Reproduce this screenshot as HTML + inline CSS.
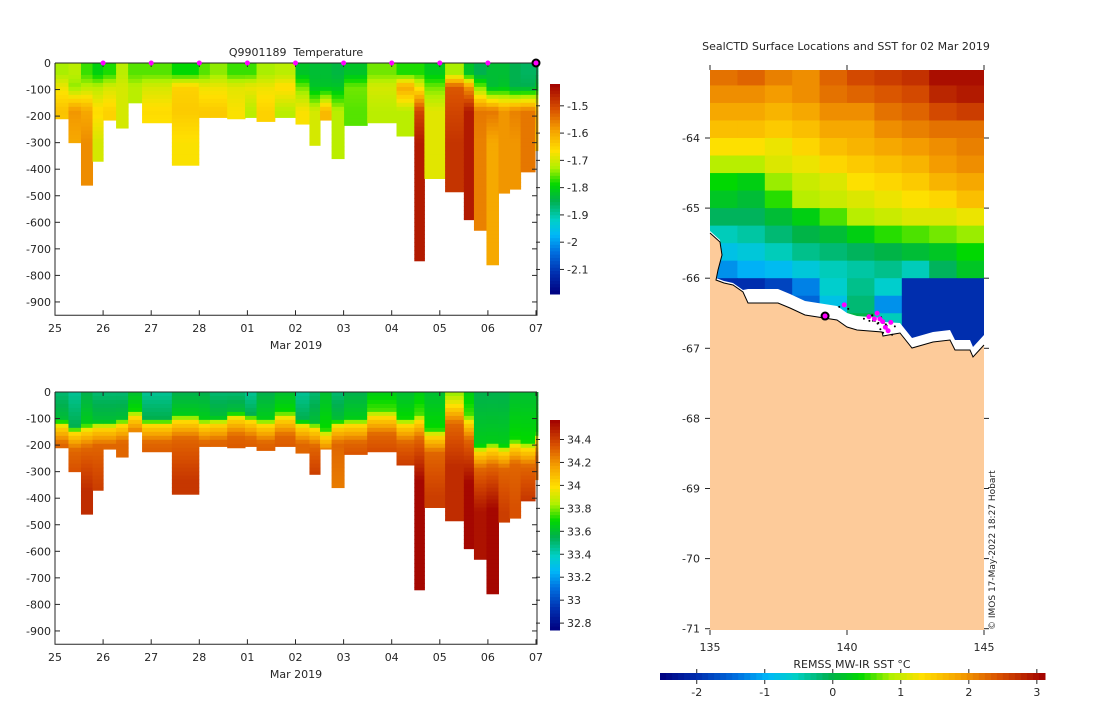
<!DOCTYPE html>
<html><head><meta charset="utf-8"><style>
body{margin:0;background:#fff;width:1100px;height:700px;overflow:hidden}
svg text{font-family:"DejaVu Sans","Liberation Sans",sans-serif;font-size:11px;fill:#262626}
</style></head><body>
<svg id="s" width="1100" height="700" xmlns="http://www.w3.org/2000/svg"></svg>
<script>
// ---- data ----
const colStart=[0,0.28,0.54,0.78,1.0,1.27,1.52,1.81,2.43,2.99,3.22,3.58,3.95,4.19,4.57,5.0,5.29,5.51,5.75,6.01,6.49,7.1,7.47,7.68,8.11,8.5,8.71,8.97,9.22,9.45,9.68,9.98];
const colEnd=[0.28,0.54,0.78,1.0,1.27,1.52,1.81,2.43,2.99,3.22,3.58,3.95,4.19,4.57,5.0,5.29,5.51,5.75,6.01,6.49,7.1,7.47,7.68,8.11,8.5,8.71,8.97,9.22,9.45,9.68,9.98,10.04];
const colDepth=[210,300,460,370,215,245,150,225,385,205,205,210,205,220,205,230,310,215,360,235,225,275,745,435,485,590,630,760,490,475,410,330];
const tSurf=[-1.73,-1.72,-1.77,-1.80,-1.78,-1.72,-1.76,-1.76,-1.79,-1.76,-1.74,-1.77,-1.77,-1.73,-1.72,-1.82,-1.83,-1.83,-1.84,-1.82,-1.75,-1.78,-1.78,-1.81,-1.73,-1.82,-1.85,-1.83,-1.83,-1.85,-1.86,-1.86];
const tMid=[-1.68,-1.74,-1.72,-1.72,-1.70,-1.70,-1.72,-1.70,-1.65,-1.68,-1.68,-1.69,-1.68,-1.68,-1.66,-1.75,-1.82,-1.82,-1.82,-1.75,-1.70,-1.60,-1.68,-1.75,-1.52,-1.58,-1.75,-1.83,-1.82,-1.85,-1.85,-1.82];
const tLow=[-1.63,-1.58,-1.60,-1.66,-1.65,-1.70,-1.72,-1.66,-1.64,-1.64,-1.64,-1.67,-1.72,-1.65,-1.72,-1.67,-1.70,-1.62,-1.72,-1.76,-1.72,-1.72,-1.50,-1.69,-1.50,-1.45,-1.55,-1.55,-1.58,-1.56,-1.55,-1.60];
const tDeep=[-1.65,-1.60,-1.57,-1.70,-1.65,-1.70,-1.72,-1.68,-1.67,-1.64,-1.64,-1.67,-1.72,-1.65,-1.72,-1.67,-1.70,-1.62,-1.72,-1.76,-1.72,-1.72,-1.45,-1.69,-1.48,-1.45,-1.56,-1.60,-1.58,-1.58,-1.55,-1.62];
const sSurf=[33.5,33.45,33.55,33.5,33.5,33.5,33.6,33.45,33.55,33.55,33.5,33.5,33.45,33.55,33.6,33.45,33.5,33.6,33.5,33.55,33.65,33.6,33.65,33.6,33.8,33.65,33.55,33.55,33.55,33.6,33.6,33.6];
const sMld=[105,130,120,110,110,100,70,100,85,100,95,75,85,100,75,105,115,140,105,100,70,100,85,140,30,90,200,190,200,180,190,155];
const sDeep=[34.35,34.4,34.45,34.4,34.3,34.3,34.3,34.4,34.42,34.35,34.35,34.4,34.4,34.4,34.4,34.3,34.45,34.3,34.25,34.45,34.45,34.5,34.55,34.4,34.45,34.55,34.52,34.55,34.4,34.35,34.45,34.3];
const dayLabels=["25","26","27","28","01","02","03","04","05","06","07"];
const depthTicks=[0,-100,-200,-300,-400,-500,-600,-700,-800,-900];
const tTicks=[-1.5,-1.6,-1.7,-1.8,-1.9,-2,-2.1];
const sTicks=[34.4,34.2,34,33.8,33.6,33.4,33.2,33,32.8];
const sstTicks=[-2,-1,0,1,2,3];
const latTicks=[-64,-65,-66,-67,-68,-69,-70,-71];
const lonTicks=[135,140,145];
const surfDays=[1,2,3,4,5,6,7,8,9];
// SST grid rows from -63 southward by 0.25 deg, cols 135..145 by 1 deg
const sstGrid=[
[2.2,2.3,2.1,2.0,2.3,2.5,2.6,2.7,3.0,3.0],
[2.0,2.0,1.9,2.0,2.2,2.3,2.4,2.5,2.8,2.9],
[1.8,1.8,1.7,1.8,2.0,2.0,2.2,2.3,2.5,2.6],
[1.6,1.6,1.5,1.6,1.8,1.8,2.0,2.1,2.2,2.2],
[1.3,1.3,1.2,1.4,1.6,1.7,1.8,1.9,2.0,2.1],
[0.9,0.9,1.1,1.2,1.4,1.5,1.6,1.7,1.9,2.0],
[0.4,0.3,0.8,1.0,1.1,1.3,1.4,1.5,1.7,1.8],
[0.2,0.1,0.5,0.9,1.0,1.1,1.2,1.3,1.4,1.6],
[-0.1,-0.1,0.1,0.3,0.6,0.9,1.0,1.1,1.1,1.2],
[-0.5,-0.4,-0.2,0.0,0.1,0.3,0.5,0.6,0.7,0.8],
[-0.8,-0.7,-0.5,-0.3,-0.2,-0.1,0.0,0.1,0.2,0.4],
[-1.2,-1.0,-0.9,-0.7,-0.5,-0.4,-0.3,-0.5,-0.1,0.2],
[-2.0,-2.0,-1.8,-1.3,-0.6,-0.3,-0.6,-2.0,-2.0,-2.0],
[-2.0,-2.0,-2.0,-1.5,-0.8,-0.2,-1.2,-2.0,-2.0,-2.0],
[null,null,null,null,-0.6,0.0,-0.5,-2.0,-2.0,-2.0],
[null,null,null,null,null,0.0,-0.3,-2.0,-2.0,-2.0],
[null,null,null,null,null,null,null,-2.0,-2.0,-2.0]];
const coast=[[710,233],[720,242],[722,255],[718,270],[716,280],[724,283],[733,285],[743,292],[748,303],[778,303],[790,308],[805,315],[837,320],[847,327],[857,330],[882,332],[883,336],[900,333],[912,348],[933,342],[950,340],[955,350],[970,350],[973,357],[984,345]];
const ctdLon=[139.9,140.8,141.1,141.2,141.3,141.4,141.5,141.6,141.0];
const ctdLat=[-66.38,-66.55,-66.5,-66.58,-66.62,-66.7,-66.75,-66.63,-66.58];

// ---- helpers ----
const S=document.getElementById('s');const NS='http://www.w3.org/2000/svg';
function el(t,a,p){const e=document.createElementNS(NS,t);for(const k in a)e.setAttribute(k,a[k]);(p||S).appendChild(e);return e;}
const stops=[[0,[0,0,128]],[0.1,[0,48,176]],[0.2,[0,112,224]],[0.28,[0,184,248]],[0.35,[0,208,200]],[0.44,[0,176,80]],[0.52,[0,216,0]],[0.6,[176,240,0]],[0.68,[255,224,0]],[0.78,[245,160,0]],[0.88,[216,80,0]],[1,[160,0,0]]];
function cmap(t){t=Math.max(0,Math.min(1,t));for(let i=1;i<stops.length;i++){if(t<=stops[i][0]){const a=stops[i-1],b=stops[i];const f=(t-a[0])/(b[0]-a[0]);const c=a[1].map((v,j)=>Math.round(v+(b[1][j]-v)*f));return `rgb(${c})`;}}return 'rgb(160,0,0)';}
function interp(z,zs,vs){if(z<=zs[0])return vs[0];for(let i=1;i<zs.length;i++)if(z<=zs[i])return vs[i-1]+(vs[i]-vs[i-1])*(z-zs[i-1])/(zs[i]-zs[i-1]);return vs[vs.length-1];}

function section(y0,cmin,cmax,profile,cbTop,cbBot,ticks,name){
  const g=el('g',{});
  const xs=d=>55+d*48.1, ys=z=>y0+z*0.2655;
  for(let c=0;c<colStart.length;c++){
    const cg=el('g',{},g);
    
    
    for(let z=0;z<colDepth[c];z+=15){
      const v=profile(c,z+7);const h=Math.min(15,colDepth[c]-z);
      el('rect',{x:xs(colStart[c]),y:ys(z),width:xs(colEnd[c])-xs(colStart[c])+0.5,height:h*0.2655+0.5,fill:cmap((v-cmin)/(cmax-cmin))},cg);
    }
  }
  const bottom=ys(950);
  el('path',{d:`M55,${y0}V${bottom}H537V${y0}`,fill:'none',stroke:'#262626','stroke-width':1},g);
  el('line',{x1:55,y1:y0,x2:537,y2:y0,stroke:'#262626'},g);
  depthTicks.forEach(d=>{const y=ys(-d);el('line',{x1:55,y1:y,x2:60,y2:y,stroke:'#262626'},g);el('line',{x1:532,y1:y,x2:537,y2:y,stroke:'#262626'},g);
    const t=el('text',{x:51,y:y+4,'text-anchor':'end'},g);t.textContent=d;});
  dayLabels.forEach((l,i)=>{const x=xs(i);el('line',{x1:x,y1:bottom,x2:x,y2:bottom-5,stroke:'#262626'},g);el('line',{x1:x,y1:y0,x2:x,y2:y0+4,stroke:'#262626'},g);
    const t=el('text',{x:x,y:bottom+17,'text-anchor':'middle'},g);t.textContent=l;});
  const xl=el('text',{x:296,y:bottom+34,'text-anchor':'middle'},g);xl.textContent='Mar 2019';
  const cb=el('g',{},g);
  const vy=v=>cbBot-(v-cmin)/(cmax-cmin)*(cbBot-cbTop);
  for(let i=0;i<64;i++){const y=cbTop+i*(cbBot-cbTop)/64;el('rect',{x:550,y:y,width:10,height:(cbBot-cbTop)/64+0.5,fill:cmap(1-(i+0.5)/64)},cb);}
  ticks.forEach(v=>{const y=vy(v);el('line',{x1:536,y1:y,x2:540,y2:y,stroke:'#262626'},cb);el('line',{x1:560,y1:y,x2:564,y2:y,stroke:'#262626'},cb);
    const t=el('text',{x:567,y:y+4},cb);t.textContent=v;});
}
section(63,-2.19,-1.42,(c,z)=>interp(z,[0,40,90,180,300],[tSurf[c],tSurf[c],tMid[c],tLow[c],tDeep[c]]),84,294,tTicks,'temperature-section');
section(392,32.74,34.57,(c,z)=>{const m=sMld[c];return interp(z,[0,m,m+25,m+90,m+250],[sSurf[c],sSurf[c]+0.1,34.0,34.3,sDeep[c]]);},420,630,sTicks,'salinity-section');
const tt=el('text',{x:296,y:56,'text-anchor':'middle'});tt.textContent='Q9901189\u00a0 Temperature';
surfDays.forEach(d=>{const m=el('circle',{cx:55+d*48.1,cy:63,r:2.5,fill:'#ff00ff'});});
const bm=el('circle',{cx:536,cy:63,r:3.5,fill:'#ff00ff',stroke:'#000','stroke-width':2});

// ---- map ----
const mg=el('g',{});
const lx=lon=>710+(lon-135)*27.4, ly=lat=>138+(-64-lat)*70.1;
const smin=-2.54,smax=3.12;
sstGrid.forEach((row,r)=>row.forEach((v,c)=>{if(v===null)return;
  const cell=el('rect',{x:lx(135+c),y:Math.max(70,ly(-63-r*0.25)),width:27.9,height:18.1,fill:cmap((v-smin)/(smax-smin))},mg);
  }));
const gapPts=coast.map(p=>[p[0],p[1]-(p[0]>745&&p[0]<900?14:(p[0]>=900?10:2))]);
el('polygon',{points:gapPts.map(p=>p.join(',')).join(' ')+' 984,630 710,630',fill:'#fff'},mg);
el('rect',{x:984,y:60,width:20,height:580,fill:'#fff'},mg);
const land=el('polygon',{points:coast.map(p=>p.join(',')).join(' ')+' 984,630 710,630',fill:'#fdcb9a'},mg);

el('polyline',{points:coast.map(p=>p.join(',')).join(' '),fill:'none',stroke:'#000','stroke-width':1},mg);
ctdLon.forEach((lo,i)=>{const p=el('circle',{cx:lx(lo),cy:ly(ctdLat[i]),r:2.5,fill:'#ff00ff'},mg);
  el('circle',{cx:lx(lo)+4,cy:ly(ctdLat[i])+4,r:1,fill:'#000'},mg);el('circle',{cx:lx(lo)-5,cy:ly(ctdLat[i])+2,r:1,fill:'#000'},mg);});
const cur=el('circle',{cx:lx(139.2),cy:ly(-66.54),r:3.5,fill:'#ff00ff',stroke:'#000','stroke-width':2},mg);
latTicks.forEach(l=>{const y=ly(l);el('line',{x1:705,y1:y,x2:710,y2:y,stroke:'#262626'},mg);el('line',{x1:984,y1:y,x2:989,y2:y,stroke:'#262626'},mg);
  const t=el('text',{x:700,y:y+4,'text-anchor':'end'},mg);t.textContent=l;});
lonTicks.forEach(l=>{const x=lx(l);el('line',{x1:x,y1:630,x2:x,y2:635,stroke:'#262626'},mg);el('line',{x1:x,y1:65,x2:x,y2:70,stroke:'#262626'},mg);
  const t=el('text',{x:x,y:651,'text-anchor':'middle'},mg);t.textContent=l;});
const mt=el('text',{x:846,y:50,'text-anchor':'middle'});mt.textContent='SealCTD Surface Locations and SST for 02 Mar 2019';
const cr=el('text',{x:0,y:0,transform:'translate(995,630) rotate(-90)',style:'font-size:9px'});cr.textContent='© IMOS 17-May-2022 18:27 Hobart';
const hb=el('g',{});
for(let i=0;i<64;i++){el('rect',{x:660+i*385/64,y:673,width:385/64+0.5,height:7,fill:cmap((i+0.5)/64)},hb);}
sstTicks.forEach(v=>{const x=660+(v-smin)/(smax-smin)*385;el('line',{x1:x,y1:669,x2:x,y2:673,stroke:'#262626'},hb);el('line',{x1:x,y1:680,x2:x,y2:684,stroke:'#262626'},hb);
  const t=el('text',{x:x,y:696,'text-anchor':'middle'},hb);t.textContent=v;});
const hl=el('text',{x:852,y:668,'text-anchor':'middle'},hb);hl.textContent='REMSS MW-IR SST °C';
</script>
</body></html>
